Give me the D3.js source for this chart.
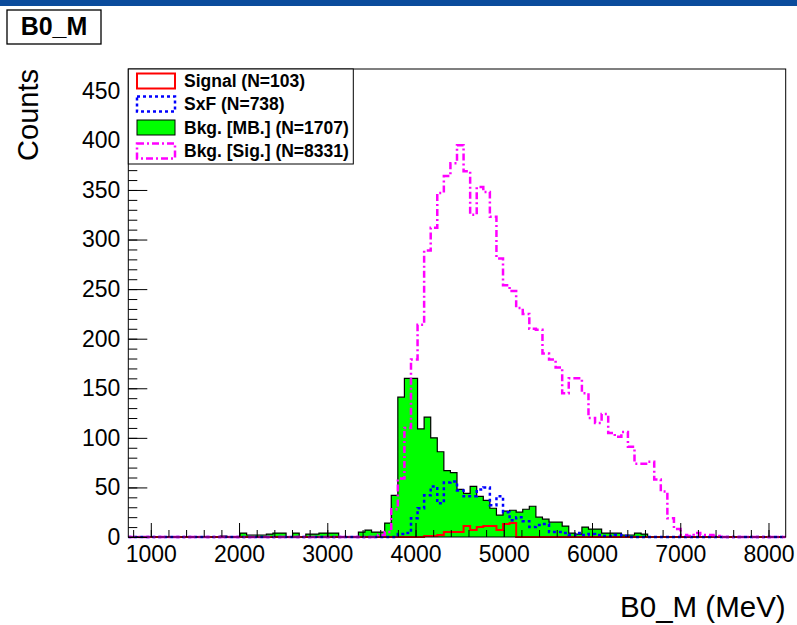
<!DOCTYPE html>
<html>
<head>
<meta charset="utf-8">
<script src="https://cdn.jsdelivr.net/npm/d3@7/dist/d3.min.js"></script>
<style>
  body { margin: 0; background: #fff; }
  svg { display: block; }
  text { font-family: "Liberation Sans", Arial, Helvetica, sans-serif; }
</style>
</head>
<body>
<svg id="chart" width="797" height="625"></svg>
<script>
// Histogram binning of B0_M (MeV): 100 equal bins
const binLow = 745;
const binWidth = 74.5;

// Counts per bin (bin 0 .. bin 99)
const signalCounts = [
  0,0,0,0,0,0,0,0,0,0, 0,0,0,0,0,0,0,0,0,0,
  0,0,0,0,0,0,0,0,0,0, 0,0,0,0,0,0,0,0,0,0,
  0,0,0,0,0,1,1,2,5,5, 5,11,7,10,11,11,7,13,14,0,
  0,0,0,0,0,0,0,0,0,0, 0,0,0,0,0,0,0,0,0,0,
  0,0,0,0,0,0,0,0,0,0, 0,0,0,0,0,0,0,0,0,0
];
const sxfCounts = [
  0,0,0,0,0,0,0,0,0,0, 0,0,0,0,0,0,0,0,0,0,
  0,0,0,0,0,0,0,0,0,0, 0,0,0,0,0,0,0,0,0,0,
  0,3,4,19,29,42,51,34,55,56, 47,41,41,48,50,32,41,25,17,20,
  16,10,12,13,5,5,4,2,4,2, 3,2,1,1,2,1,0,0,0,0,
  0,0,0,0,0,0,0,0,0,0, 0,0,0,0,0,0,0,0,0,0
];
const bkgMBCounts = [
  0,0,0,0,0,0,0,0,0,0, 0,0,0,0,1,0,0,4,2,2,
  2,3,4,4,0,4,0,3,3,4, 4,4,0,0,0,5,7,5,5,14,
  42,141,160,160,109,121,100,86,67,65, 48,44,51,41,37,29,22,26,27,25,
  28,31,20,18,15,15,11,4,3,10, 8,8,4,4,4,2,2,4,3,0,
  0,0,0,0,0,0,0,0,0,0, 0,0,0,0,0,0,0,0,0,0
];
const bkgSigCounts = [
  0,0,0,0,0,0,0,0,0,0, 0,0,0,0,0,0,0,0,0,0,
  0,0,0,0,0,0,0,0,0,0, 0,0,0,0,0,0,0,0,2,5,
  28,59,110,179,214,289,312,347,364,377, 395,369,325,353,348,323,281,254,248,231,
  225,210,209,185,179,171,145,160,160,145, 120,115,124,105,101,106,91,74,74,76,
  58,46,19,8,2,1,4,2,2,1, 0,0,0,0,0,0,0,0,0,0
];

// Axis ticks and labels
const xTickValues = [1000, 2000, 3000, 4000, 5000, 6000, 7000, 8000];
const yTickValues = [0, 50, 100, 150, 200, 250, 300, 350, 400, 450];

// Legend entries
const legendLabels = ["Signal (N=103)", "SxF (N=738)", "Bkg. [MB.] (N=1707)", "Bkg. [Sig.] (N=8331)"];

const svg = d3.select("#chart");
const frame = { left: 128.3, right: 785.7, top: 69, bottom: 537 };
const nBins = bkgSigCounts.length;
const binHigh = binLow + binWidth * nBins;

const x = d3.scaleLinear().domain([binLow, binHigh]).range([frame.left, frame.right]);
const y = d3.scaleLinear().domain([0, 472]).range([frame.bottom, frame.top]);

// window bar
svg.append("rect").attr("x", 0).attr("y", 0).attr("width", 797).attr("height", 6).attr("fill", "#0b4c9c");

// clip to the frame
svg.append("defs").append("clipPath").attr("id", "frameClip")
  .append("rect")
  .attr("x", frame.left).attr("y", frame.top - 2)
  .attr("width", frame.right - frame.left).attr("height", frame.bottom - frame.top + 4);

function stepPoints(counts) {
  const pts = [[binLow, 0]];
  counts.forEach((c, i) => pts.push([binLow + i * binWidth, c]));
  pts.push([binHigh, counts[counts.length - 1]]);
  pts.push([binHigh, 0]);
  return pts;
}

const stepLine = d3.line()
  .x(d => x(d[0])).y(d => y(d[1]))
  .curve(d3.curveStepAfter);

const stepArea = d3.area()
  .x(d => x(d[0])).y0(y(0)).y1(d => y(d[1]))
  .curve(d3.curveStepAfter);

const plot = svg.append("g").attr("clip-path", "url(#frameClip)");

// Bkg. [MB.] filled histogram
plot.append("path")
  .attr("d", stepArea(stepPoints(bkgMBCounts)))
  .attr("fill", "#00ff00");
plot.append("path")
  .attr("d", stepLine(stepPoints(bkgMBCounts)))
  .attr("fill", "none").attr("stroke", "#000").attr("stroke-width", 1.2);

// Signal
plot.append("path")
  .attr("d", stepLine(stepPoints(signalCounts)))
  .attr("fill", "none").attr("stroke", "#ff0000").attr("stroke-width", 2);

// SxF
plot.append("path")
  .attr("d", stepLine(stepPoints(sxfCounts)))
  .attr("fill", "none").attr("stroke", "#0000ff").attr("stroke-width", 2.5)
  .attr("stroke-dasharray", "3,3");

// Bkg. [Sig.]
plot.append("path")
  .attr("d", stepLine(stepPoints(bkgSigCounts)))
  .attr("fill", "none").attr("stroke", "#ff00ff").attr("stroke-width", 2.5)
  .attr("stroke-dasharray", "7,3,2,3");

// Frame
svg.append("rect")
  .attr("x", frame.left).attr("y", frame.top)
  .attr("width", frame.right - frame.left).attr("height", frame.bottom - frame.top)
  .attr("fill", "none").attr("stroke", "#000").attr("stroke-width", 1);

// X axis
const xMinor = d3.range(800, binHigh, 200);
svg.append("g").attr("transform", `translate(0,${frame.bottom})`)
  .call(d3.axisBottom(x).tickValues(xMinor).tickSize(-7).tickFormat(""))
  .call(g => g.select(".domain").remove());
const xAxis = svg.append("g").attr("transform", `translate(0,${frame.bottom})`)
  .call(d3.axisBottom(x).tickValues(xTickValues).tickSize(-14).tickPadding(9).tickFormat(d3.format("d")))
  .call(g => g.select(".domain").remove());
xAxis.selectAll("text").attr("font-size", 23).attr("fill", "#000")
  .attr("font-family", "'Liberation Sans', Arial, sans-serif");

// Y axis
const yMinor = d3.range(0, 472, 10);
svg.append("g").attr("transform", `translate(${frame.left},0)`)
  .call(d3.axisLeft(y).tickValues(yMinor).tickSize(-9).tickFormat(""))
  .call(g => g.select(".domain").remove());
const yAxis = svg.append("g").attr("transform", `translate(${frame.left},0)`)
  .call(d3.axisLeft(y).tickValues(yTickValues).tickSize(-19).tickPadding(8).tickFormat(d3.format("d")))
  .call(g => g.select(".domain").remove());
yAxis.selectAll("text").attr("font-size", 23).attr("fill", "#000")
  .attr("font-family", "'Liberation Sans', Arial, sans-serif");
svg.selectAll(".tick line").attr("stroke", "#000").attr("stroke-width", 1);

// Axis titles
svg.append("text")
  .attr("x", frame.right).attr("y", 617)
  .attr("text-anchor", "end").attr("font-size", 29.5).attr("fill", "#000")
  .text("B0_M (MeV)");
svg.append("text")
  .attr("transform", `translate(38,${frame.top}) rotate(-90)`)
  .attr("text-anchor", "end").attr("font-size", 29).attr("fill", "#000")
  .text("Counts");

// Title box
svg.append("rect").attr("x", 7).attr("y", 10).attr("width", 94).attr("height", 34)
  .attr("fill", "#fff").attr("stroke", "#000").attr("stroke-width", 1.3);
svg.append("text").attr("x", 54).attr("y", 35)
  .attr("text-anchor", "middle").attr("font-size", 25).attr("font-weight", "bold")
  .text("B0_M");

// Legend
const legend = svg.append("g");
legend.append("rect").attr("x", frame.left).attr("y", frame.top)
  .attr("width", 225).attr("height", 95)
  .attr("fill", "#fff").attr("stroke", "#000").attr("stroke-width", 1);

const legendStyles = [
  { fill: "#fff", stroke: "#ff0000", dash: null, width: 2 },
  { fill: "#fff", stroke: "#0000ff", dash: "3,3", width: 2.5 },
  { fill: "#00ff00", stroke: "#000", dash: null, width: 1 },
  { fill: "#fff", stroke: "#ff00ff", dash: "7,3,2,3", width: 2.5 }
];
const rowY = [81, 104, 127.5, 151];
legendLabels.forEach((label, i) => {
  const st = legendStyles[i];
  legend.append("rect")
    .attr("x", 137).attr("y", rowY[i] - 7.5).attr("width", 38).attr("height", 15)
    .attr("fill", st.fill).attr("stroke", st.stroke).attr("stroke-width", st.width)
    .attr("stroke-dasharray", st.dash);
  legend.append("text")
    .attr("x", 184).attr("y", rowY[i]).attr("dy", "0.36em")
    .attr("font-size", 17.5).attr("font-weight", "bold").attr("fill", "#000")
    .text(label);
});
</script>
</body>
</html>
